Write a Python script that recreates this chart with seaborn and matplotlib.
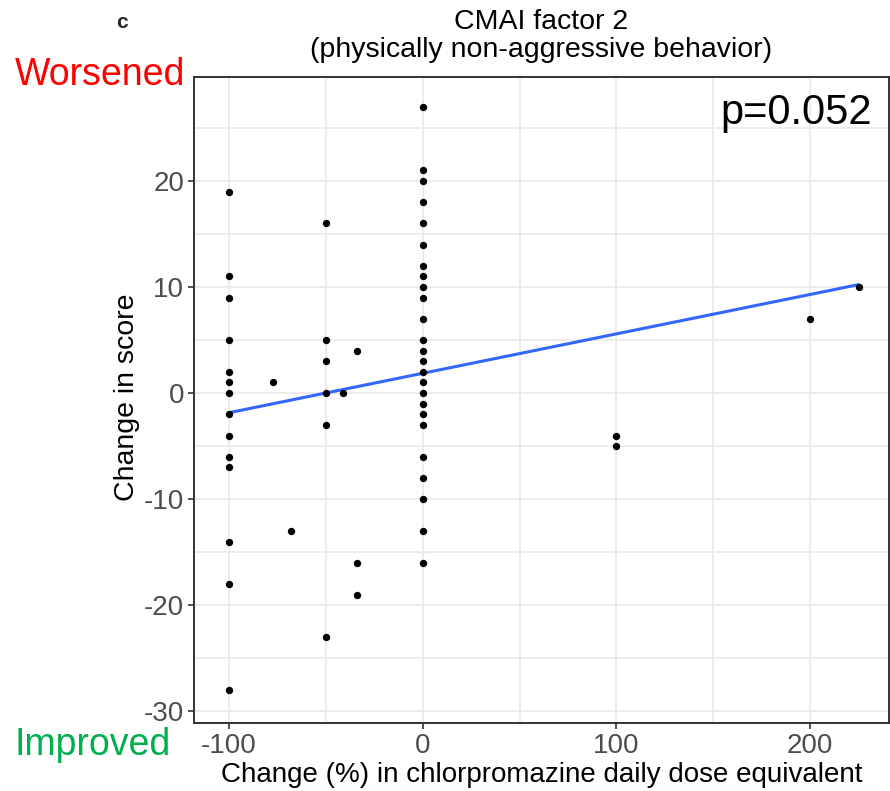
import numpy as np
import pandas as pd
import matplotlib
matplotlib.use("Agg")
import matplotlib.pyplot as plt
import seaborn as sns

# ---- data ----
x_m100 = [19, 11, 9, 5, 2, 1, 0, -2, -4, -6, -7, -14, -18, -28]
x_m77 = [1]
x_m68 = [-13]
x_m50 = [16, 5, 3, 0, -3, -23]
x_m41 = [0]
x_m34 = [4, -16, -19]
x_0 = [27, 21, 20, 18, 16, 14, 12, 11, 10, 9, 7, 5, 4, 3, 2, 1, 0, -1, -2, -3, -6, -8, -10, -13, -16]
x_100 = [-4, -5]
x_200 = [7]
x_225 = [10]

groups = [(-100, x_m100), (-77, x_m77), (-68, x_m68), (-50, x_m50), (-41, x_m41),
          (-34, x_m34), (0, x_0), (100, x_100), (200, x_200), (225, x_225)]
dose_change = []
score_change = []
for xv, ys in groups:
    dose_change += [xv] * len(ys)
    score_change += ys
df = pd.DataFrame({"dose": dose_change, "score": score_change})

x_ticks = [-100, 0, 100, 200]
y_ticks = [-30, -20, -10, 0, 10, 20]
title = "CMAI factor 2\n(physically non-aggressive behavior)"
xlabel = "Change (%) in chlorpromazine daily dose equivalent"
ylabel = "Change in score"
p_text = "p=0.052"

sns.set_theme(style="whitegrid")
plt.rcParams['font.family'] = ['Liberation Sans', 'DejaVu Sans']
plt.rcParams['axes.unicode_minus'] = False

fig = plt.figure(figsize=(8.9, 7.91), dpi=100)
ax = fig.add_axes([194/890, 68/791, 695/890, 646/791])

sns.regplot(data=df, x="dose", y="score", ax=ax, ci=None,
            scatter_kws=dict(s=28, color="black", alpha=1, linewidths=0, zorder=3),
            line_kws=dict(color="#3366FF", lw=2.2, zorder=2))

ax.set_xlim(-118, 240.7)
ax.set_ylim(-31.1, 29.8)
ax.set_xticks(x_ticks)
ax.set_yticks(y_ticks)
ax.set_xticks([-50, 50, 150], minor=True)
ax.set_yticks([-25, -15, -5, 5, 15, 25], minor=True)
ax.grid(True, which="major", color="#EBEBEB", lw=1.3)
ax.grid(True, which="minor", color="#EBEBEB", lw=1.3)
ax.set_facecolor("white")
for s in ax.spines.values():
    s.set_color("#333333")
    s.set_linewidth(1.4)
ax.tick_params(axis="both", which="major", length=4, width=1.2, color="#333333",
               labelsize=20, labelcolor="#4D4D4D", pad=3, bottom=True, left=True)
ax.tick_params(axis="both", which="minor", length=0)

ax.set_xlabel(xlabel, fontsize=20, color="black", labelpad=2)
ax.set_ylabel(ylabel, fontsize=20.5, color="black")
ax.yaxis.set_label_coords(-0.078, 0.505)

fig.text(541.5/890, 1 - 36/791, title, fontsize=20.5, color="black",
         ha="center", va="center", linespacing=1.08)

fig.text(122/890, 1 - 22/791, "c", fontsize=15, fontweight="bold", ha="center", va="center")
fig.text(15/890, 1 - 75/791, "Worsened", fontsize=27, color="#FF0000", ha="left", va="center")
fig.text(15/890, 1 - 745/791, "Improved", fontsize=27, color="#00B050", ha="left", va="center")
ax.text(0.976, 0.944, p_text, transform=ax.transAxes, fontsize=30, color="black",
        ha="right", va="center")

fig.savefig("out.png", dpi=100)
